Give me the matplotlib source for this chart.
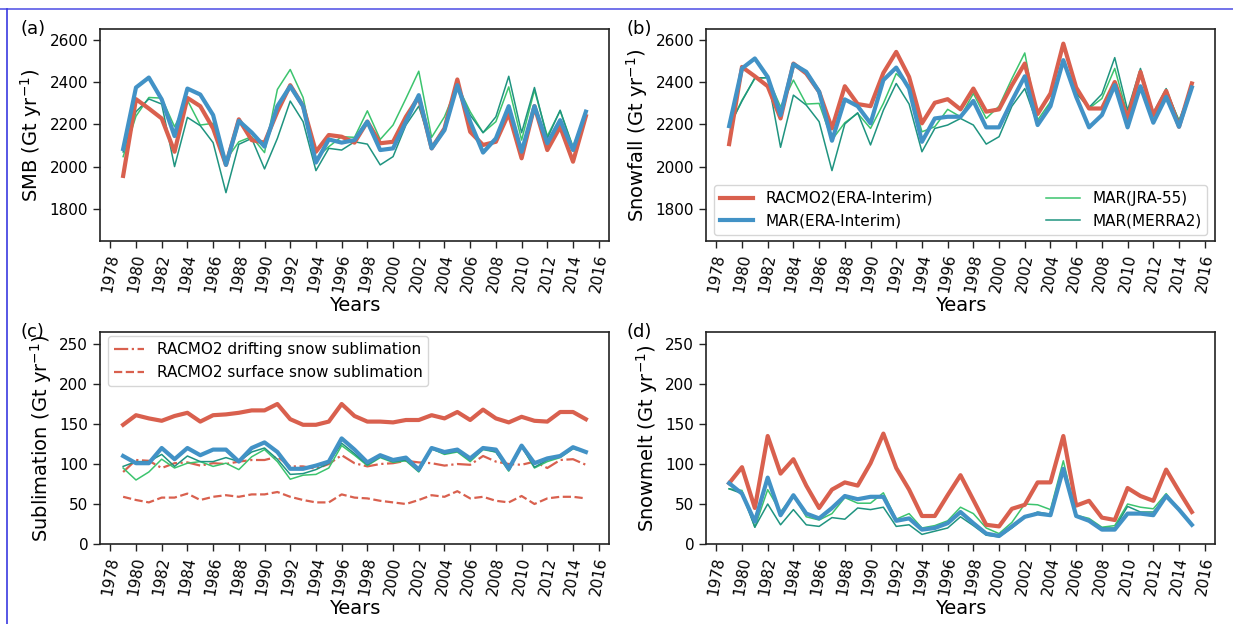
import numpy as np
import matplotlib
matplotlib.use("Agg")
import matplotlib.pyplot as plt
from matplotlib.lines import Line2D

years = np.arange(1979, 2016)

# (a) Surface mass balance, Gt/yr
smb_racmo = [1957, 2319, 2275, 2228, 2071, 2325, 2286, 2181, 2009, 2224, 2126, 2114, 2260, 2385, 2286,
             2071, 2150, 2142, 2114, 2213, 2111, 2118, 2236, 2330, 2087, 2181, 2412, 2165, 2103, 2118,
             2252, 2040, 2286, 2079, 2189, 2024, 2239]
smb_mar_era = [2084, 2374, 2421, 2318, 2145, 2369, 2341, 2244, 2009, 2217, 2162, 2095, 2286, 2380, 2286,
               2020, 2129, 2114, 2126, 2213, 2079, 2087, 2213, 2338, 2087, 2173, 2385, 2213, 2067, 2134,
               2286, 2071, 2286, 2111, 2220, 2079, 2260]
smb_mar_jra = [2048, 2239, 2327, 2324, 2189, 2314, 2197, 2205, 2032, 2118, 2142, 2067, 2365, 2459, 2327,
               2040, 2095, 2142, 2139, 2264, 2129, 2197, 2322, 2451, 2139, 2236, 2385, 2260, 2161, 2213,
               2377, 2126, 2362, 2145, 2264, 2095, 2255]
smb_mar_merra = [2070, 2260, 2320, 2296, 2001, 2233, 2194, 2114, 1878, 2106, 2134, 1990, 2134, 2310, 2213,
                 1982, 2087, 2079, 2118, 2107, 2009, 2048, 2197, 2286, 2095, 2181, 2377, 2244, 2161, 2236,
                 2427, 2161, 2374, 2134, 2267, 2087, 2244]

# (b) Snowfall, Gt/yr
sf_racmo = [2107, 2471, 2427, 2380, 2228, 2487, 2440, 2354, 2181, 2380, 2296, 2286, 2443, 2542, 2424,
            2205, 2302, 2319, 2271, 2369, 2260, 2271, 2385, 2487, 2249, 2346, 2581, 2374, 2275, 2275,
            2400, 2228, 2448, 2244, 2358, 2189, 2393]
sf_mar_era = [2192, 2464, 2511, 2424, 2244, 2484, 2448, 2354, 2123, 2318, 2286, 2205, 2409, 2468, 2369,
              2118, 2228, 2236, 2236, 2311, 2186, 2186, 2311, 2427, 2197, 2286, 2503, 2330, 2186, 2244,
              2385, 2186, 2380, 2208, 2330, 2189, 2374]
sf_mar_jra = [2189, 2314, 2416, 2421, 2283, 2409, 2296, 2299, 2127, 2208, 2252, 2181, 2299, 2440, 2380,
              2165, 2189, 2271, 2236, 2346, 2228, 2286, 2416, 2537, 2220, 2307, 2500, 2354, 2275, 2322,
              2464, 2244, 2440, 2252, 2358, 2220, 2374]
sf_mar_merra = [2190, 2310, 2420, 2420, 2092, 2338, 2291, 2213, 1982, 2202, 2255, 2103, 2267, 2393, 2296,
                2071, 2181, 2197, 2228, 2197, 2107, 2142, 2286, 2369, 2197, 2299, 2495, 2346, 2280, 2343,
                2515, 2267, 2464, 2255, 2369, 2213, 2374]

# (c) Sublimation, Gt/yr
sub_racmo = [149, 161, 157, 154, 160, 164, 153, 161, 162, 164, 167, 167, 175, 156, 149,
             149, 153, 175, 160, 153, 153, 152, 155, 155, 161, 157, 165, 155, 168, 157,
             152, 159, 154, 153, 165, 165, 156]
sub_mar_era = [110, 101, 101, 120, 106, 120, 111, 118, 118, 103, 120, 127, 115, 94, 94,
               98, 103, 132, 118, 102, 111, 105, 108, 93, 120, 115, 118, 107, 120, 118,
               94, 123, 101, 107, 110, 121, 115]
sub_mar_jra = [95, 80, 90, 106, 95, 101, 103, 97, 101, 93, 109, 118, 103, 81, 86,
               87, 95, 123, 111, 98, 108, 102, 104, 90, 119, 112, 115, 103, 118, 115,
               91, 122, 95, 103, 108, 119, 115]
sub_mar_merra = [97, 103, 103, 112, 97, 110, 103, 103, 108, 103, 115, 120, 106, 87, 88,
                 93, 101, 126, 113, 99, 109, 103, 105, 91, 119, 113, 116, 105, 119, 115,
                 93, 122, 96, 105, 109, 120, 115]
sub_drift = [90, 105, 104, 95, 101, 102, 98, 101, 100, 103, 105, 105, 109, 97, 97,
             94, 100, 111, 101, 97, 100, 101, 104, 102, 101, 98, 100, 99, 110, 103,
             100, 99, 103, 95, 105, 106, 99]
sub_surface = [59, 55, 52, 58, 58, 63, 55, 59, 61, 59, 62, 62, 65, 59, 55,
               52, 52, 62, 58, 57, 54, 52, 50, 55, 61, 59, 66, 57, 59, 54,
               52, 60, 50, 57, 59, 59, 57]

# (d) Snowmelt, Gt/yr
melt_racmo = [76, 96, 45, 135, 88, 106, 73, 45, 68, 77, 73, 101, 138, 95, 68,
              35, 35, 61, 86, 55, 24, 22, 44, 49, 77, 77, 135, 48, 54, 33,
              30, 70, 60, 54, 93, 66, 40]
melt_mar_era = [76, 63, 28, 83, 36, 61, 38, 32, 45, 60, 56, 59, 59, 29, 32,
                18, 20, 26, 40, 26, 13, 10, 22, 34, 38, 36, 94, 35, 29, 18,
                18, 38, 38, 36, 60, 43, 24]
melt_mar_jra = [69, 67, 21, 68, 40, 61, 34, 30, 38, 58, 51, 51, 64, 31, 38,
                20, 23, 29, 46, 38, 20, 13, 27, 50, 49, 43, 104, 36, 32, 21,
                23, 50, 46, 44, 63, 43, 24]
melt_mar_merra = [69, 63, 21, 50, 24, 43, 24, 22, 33, 31, 45, 43, 46, 22, 24,
                  12, 16, 20, 34, 23, 11, 9, 20, 33, 40, 37, 93, 34, 30, 20,
                  20, 47, 40, 40, 59, 43, 24]

year_ticks = list(range(1978, 2017, 2))
legend_labels = ["RACMO2(ERA-Interim)", "MAR(ERA-Interim)", "MAR(JRA-55)", "MAR(MERRA2)"]

C_RED = "#d9604e"
C_BLUE = "#4292c6"
C_GREEN = "#3cc46e"
C_TEAL = "#1f9480"

plt.rcParams["font.family"] = "DejaVu Sans"

fig = plt.figure(figsize=(12.33, 6.24), dpi=100)

W = 509 / 1233
H = 212 / 624
x_left = 100 / 1233
x_right = 706 / 1233
y_top = 1 - 241 / 624
y_bot = 1 - 544 / 624

ax_a = fig.add_axes([x_left, y_top, W, H])
ax_b = fig.add_axes([x_right, y_top, W, H])
ax_c = fig.add_axes([x_left, y_bot, W, H])
ax_d = fig.add_axes([x_right, y_bot, W, H])


def draw_models(ax, racmo, mar_era, mar_jra, mar_merra):
    h1, = ax.plot(years, racmo, color=C_RED, lw=3.0, zorder=4)
    h2, = ax.plot(years, mar_era, color=C_BLUE, lw=3.0, zorder=5)
    h3, = ax.plot(years, mar_jra, color=C_GREEN, lw=1.1, zorder=3)
    h4, = ax.plot(years, mar_merra, color=C_TEAL, lw=1.1, zorder=3)
    return [h1, h2, h3, h4]


def style(ax, ylabel, letter, yticks, ylim):
    ax.set_xticks(year_ticks)
    ax.set_xticklabels([str(y) for y in year_ticks], rotation=80, fontsize=11)
    ax.set_xlim(1977.2, 2016.8)
    ax.set_yticks(yticks)
    ax.set_ylim(*ylim)
    ax.tick_params(axis="y", labelsize=11)
    ax.tick_params(direction="out", length=5, width=1, color="#222222")
    ax.set_xlabel("Years", fontsize=14, labelpad=2)
    ax.set_ylabel(ylabel, fontsize=14)
    for sp in ax.spines.values():
        sp.set_color("#222222")
        sp.set_linewidth(1.2)
    ax.text(-0.157, 1.0, letter, transform=ax.transAxes, fontsize=13,
            ha="left", va="center")


draw_models(ax_a, smb_racmo, smb_mar_era, smb_mar_jra, smb_mar_merra)
style(ax_a, "SMB (Gt yr$^{-1}$)", "(a)", [1800, 2000, 2200, 2400, 2600], (1650, 2650))

hb = draw_models(ax_b, sf_racmo, sf_mar_era, sf_mar_jra, sf_mar_merra)
style(ax_b, "Snowfall (Gt yr$^{-1}$)", "(b)", [1800, 2000, 2200, 2400, 2600], (1650, 2650))
leg_b = ax_b.legend(hb, legend_labels, ncol=2, mode="expand", loc="lower left",
                    bbox_to_anchor=(0.015, 0.03, 0.97, 0.3), fontsize=11,
                    handlelength=2.2, framealpha=0.8, borderaxespad=0)
leg_b.get_frame().set_edgecolor("#cccccc")

draw_models(ax_c, sub_racmo, sub_mar_era, sub_mar_jra, sub_mar_merra)
hd1, = ax_c.plot(years, sub_drift, color=C_RED, lw=1.6, ls="-.", zorder=2)
hd2, = ax_c.plot(years, sub_surface, color=C_RED, lw=1.6, ls="--", zorder=2)
style(ax_c, "Sublimation (Gt yr$^{-1}$)", "(c)", [0, 50, 100, 150, 200, 250], (0, 265))
leg_c = ax_c.legend([hd1, hd2], ["RACMO2 drifting snow sublimation",
                                 "RACMO2 surface snow sublimation"],
                    loc="upper left", fontsize=11, handlelength=2.0,
                    framealpha=0.8, bbox_to_anchor=(0.015, 0.98), borderaxespad=0)
leg_c.get_frame().set_edgecolor("#cccccc")

draw_models(ax_d, melt_racmo, melt_mar_era, melt_mar_jra, melt_mar_merra)
style(ax_d, "Snowmelt (Gt yr$^{-1}$)", "(d)", [0, 50, 100, 150, 200, 250], (0, 265))

# page frame lines
fig.add_artist(Line2D([0, 1], [1 - 9 / 624, 1 - 9 / 624], transform=fig.transFigure,
                      color="#5a5ae6", lw=1.2))
fig.add_artist(Line2D([7 / 1233, 7 / 1233], [0, 1 - 9 / 624], transform=fig.transFigure,
                      color="#3a3ae0", lw=1.2))

fig.savefig("out.png", dpi=100)
